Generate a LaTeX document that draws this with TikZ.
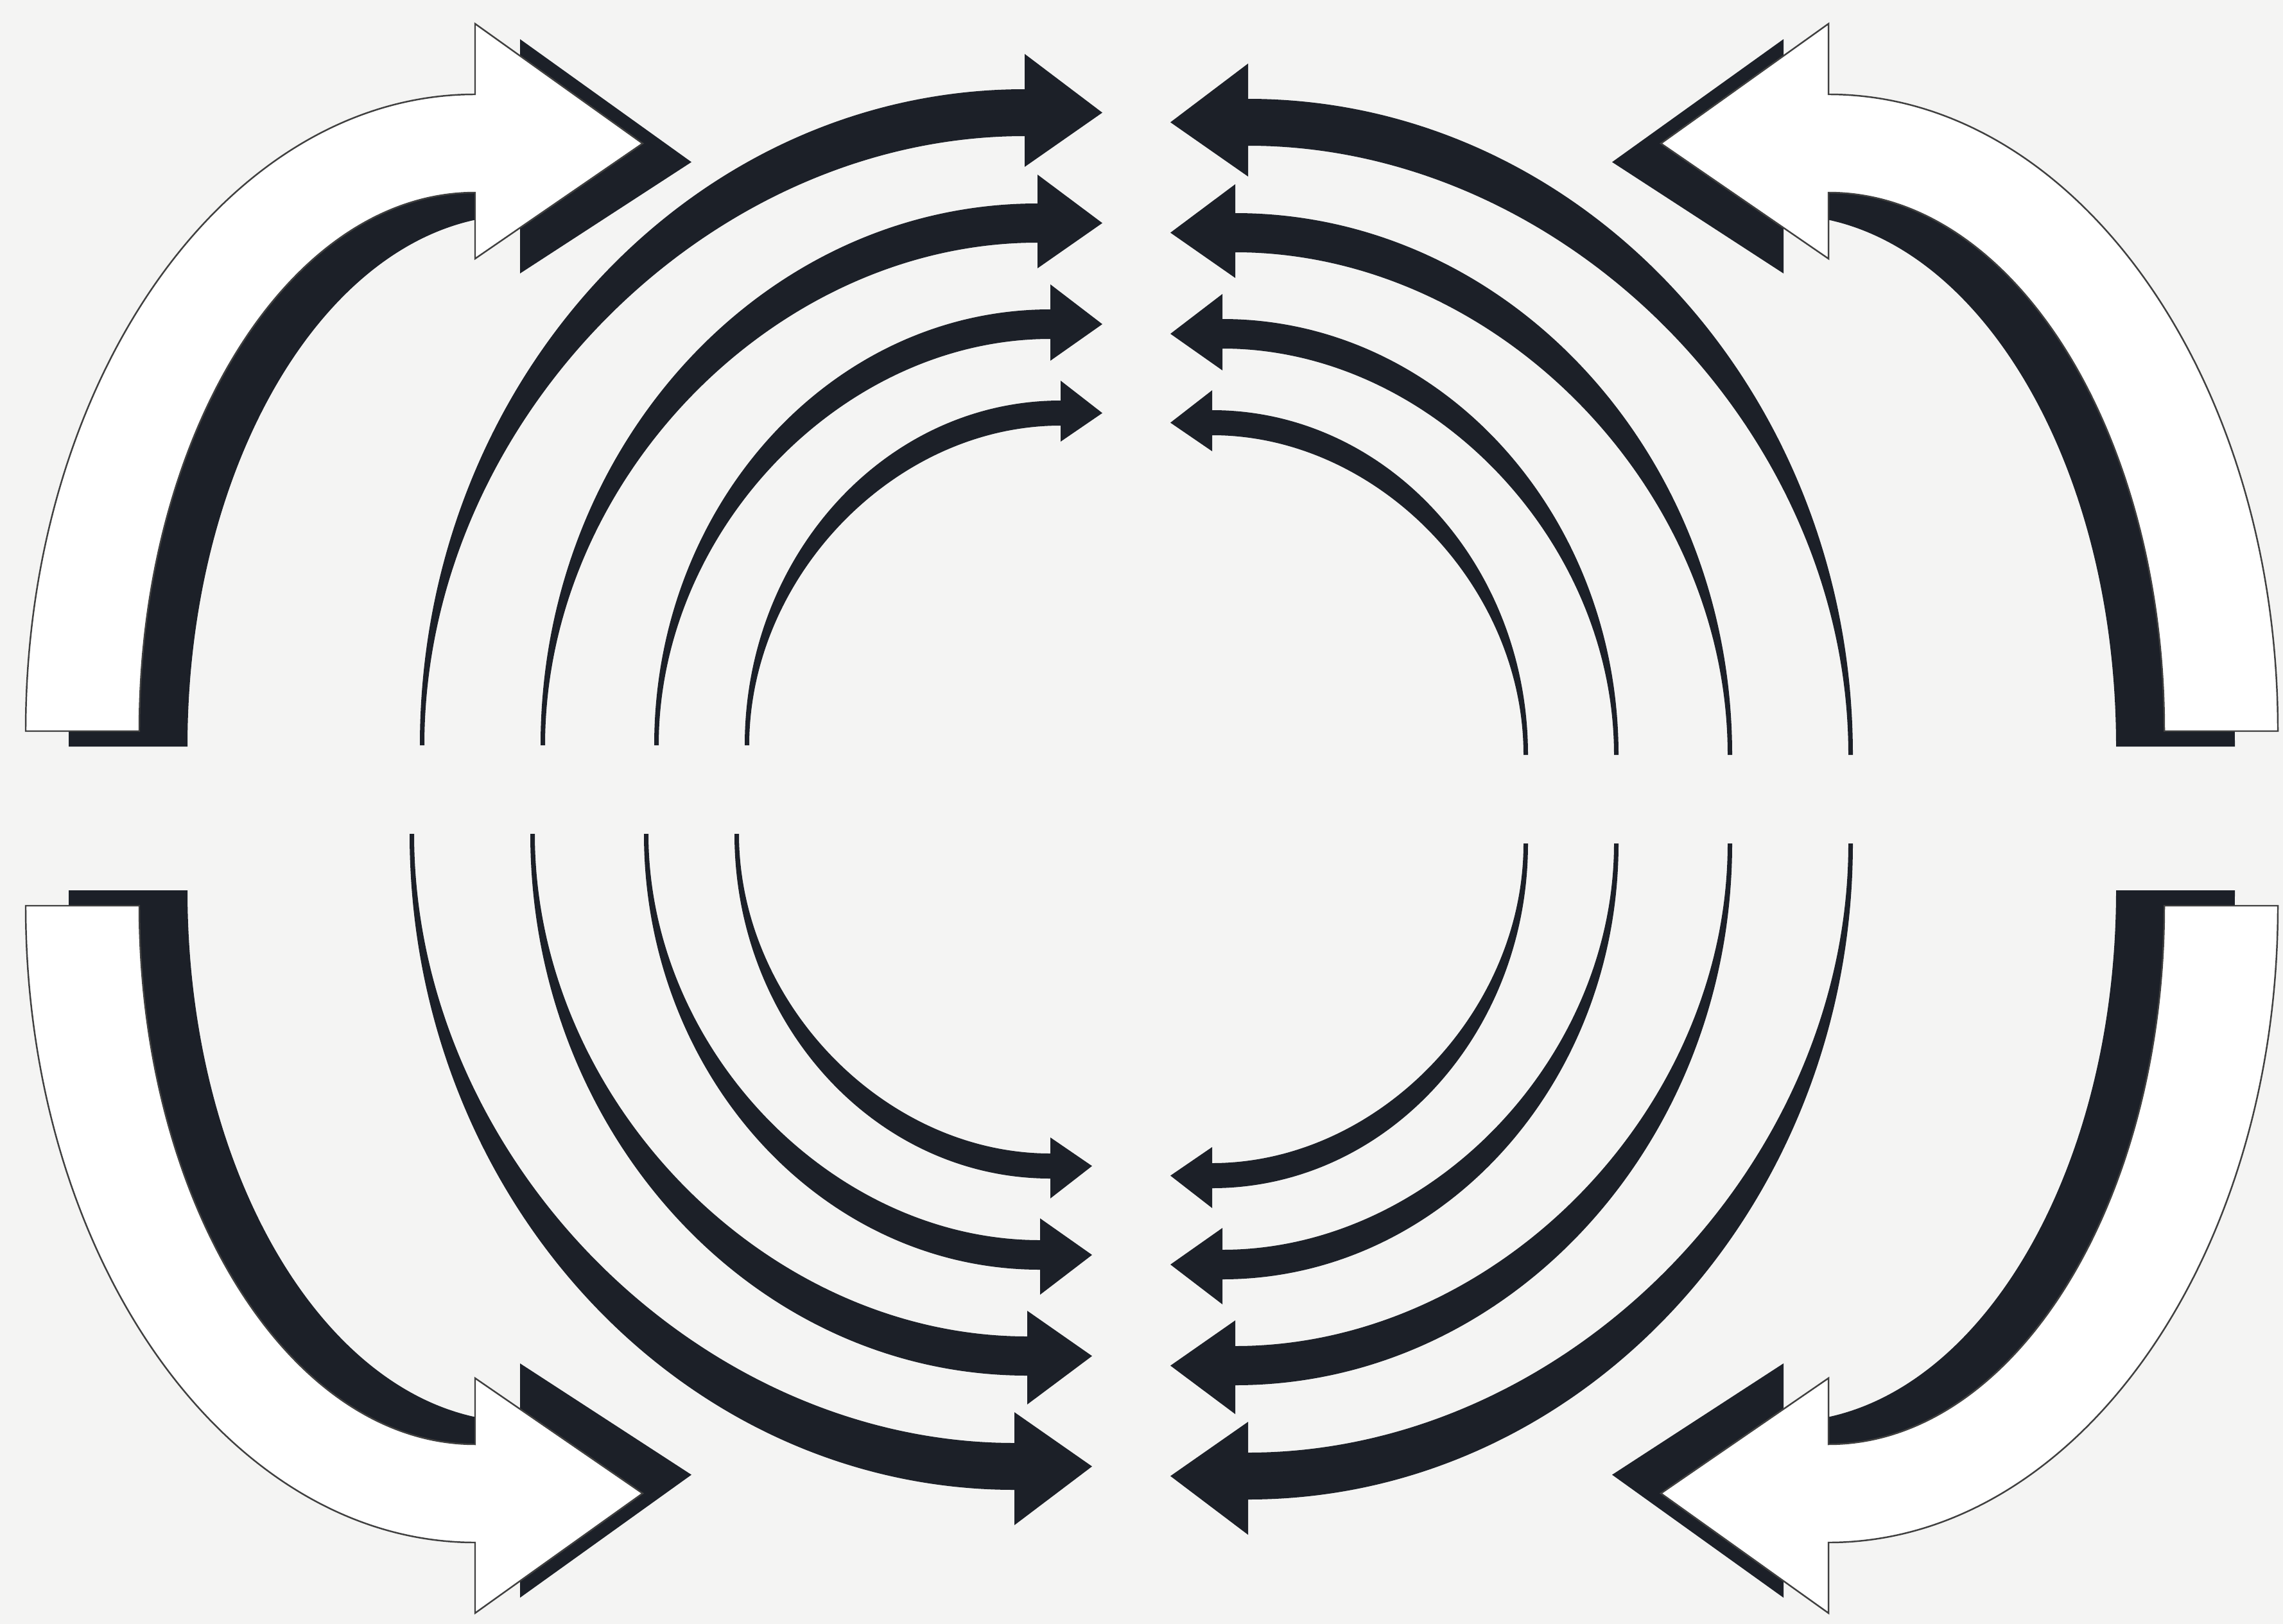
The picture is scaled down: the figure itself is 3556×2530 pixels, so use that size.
\documentclass[tikz,border=0pt]{standalone}
\definecolor{ink}{RGB}{28,32,40}
\definecolor{paper}{RGB}{244,244,243}
\tikzset{
  inkfill/.style={fill=ink},
  hollow/.style={fill=white, draw=black!75, line width=0.7pt, line join=miter},
  tstyle/.style={inkfill}
}
\newcommand{\kin}{0.5523}
% tapered curved arrow: #1 outer base x, #2 inner base x, #3 base y, #4 head back x,
% #5 shaft outer y at head, #6 shaft inner y at head, #7 head outer corner y, #8 head inner corner y, #9 tip x
\newcommand{\taper}[9]{%
  \path[tstyle] (#1,#3)
    .. controls (#1,{(#3)+0.5523*((#5)-(#3))}) and ({(#4)-0.5523*((#4)-(#1))},#5) .. (#4,#5)
    -- (#4,#7) -- (#9,{((#5)+(#6))/2}) -- (#4,#8) -- (#4,#6)
    .. controls ({(#4)-\kin*((#4)-(#2))},#6) and (#2,{(#3)+\kin*((#6)-(#3))}) .. (#2,#3)
    -- cycle;}
\newcommand{\innerquad}{%
  \tikzset{tstyle/.style={inkfill}}%
  \renewcommand{\kin}{0.53}%
  \taper{-1120}{-1113}{69}{-178}{1091}{1018}{1146}{970}{-57}%
  \taper{-932}{-925}{69}{-158}{913}{852}{958}{812}{-57}%
  \taper{-755}{-748}{69}{-138}{748}{702}{787}{668}{-57}%
  \taper{-614}{-607}{69}{-122}{606}{567}{637}{542}{-57}%
}
\newcommand{\outerquad}{%
  \renewcommand{\kin}{0.5523}%
  \tikzset{tstyle/.style={inkfill}}%
  \taper{-1687}{-1502}{112}{-984}{1105}{940}{1214}{849}{-717}%
  \tikzset{tstyle/.style={hollow}}%
  \taper{-1754}{-1577}{136}{-1054}{1128}{975}{1238}{872}{-793}%
}
\begin{document}
\begin{tikzpicture}[x=0.01cm,y=0.01cm]
\fill[paper] (0,-2530) rectangle (3556,0);
\useasboundingbox (0,-2530) rectangle (3556,0);
% inner tapered arrows
\begin{scope}[shift={(1774,-1230)}] \innerquad \end{scope}
\begin{scope}[shift={(1758,-1230)},yscale=-1] \innerquad \end{scope}
\begin{scope}[shift={(1766,-1245)},xscale=-1] \innerquad \end{scope}
\begin{scope}[shift={(1766,-1245)},xscale=-1,yscale=-1] \innerquad \end{scope}
% outer hollow arrows with shadow
\begin{scope}[shift={(1794,-1275)}] \outerquad \end{scope}
\begin{scope}[shift={(1794,-1275)},yscale=-1] \outerquad \end{scope}
\begin{scope}[shift={(1794,-1275)},xscale=-1] \outerquad \end{scope}
\begin{scope}[shift={(1794,-1275)},xscale=-1,yscale=-1] \outerquad \end{scope}
\end{tikzpicture}
\end{document}
